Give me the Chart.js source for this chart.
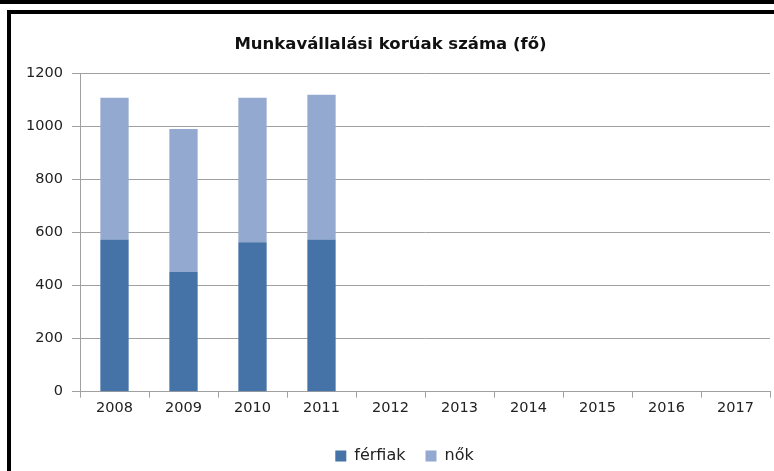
<!DOCTYPE html>
<html>
<head>
<meta charset="utf-8">
<script src="https://cdn.jsdelivr.net/npm/chart.js@4/dist/chart.umd.min.js"></script>
<style>
  html, body { margin: 0; padding: 0; background: #fff; overflow: hidden; }
  .bar-top { position: absolute; left: 0; top: 0; width: 774px; height: 4px; background: #000; }
  .frame-top { position: absolute; left: 7px; top: 10px; width: 767px; height: 4px; background: #000; }
  .frame-left { position: absolute; left: 7px; top: 10px; width: 4px; height: 461px; background: #000; }
  #wrap { position: absolute; left: 11px; top: 14px; width: 763px; height: 460px; }
</style>
</head>
<body>
<div class="bar-top"></div>
<div class="frame-top"></div>
<div class="frame-left"></div>
<div id="wrap"><canvas id="chart"></canvas></div>
<script>
// Munkavállalási korúak száma (fő)
const years = ['2008','2009','2010','2011','2012','2013','2014','2015','2016','2017'];
const ferfiak = [574, 451, 563, 574, null, null, null, null, null, null];
const nok = [534, 539, 545, 545, null, null, null, null, null, null];

const gridGray = '#a0a0a0';
const font = 'DejaVu Sans';

// legend sits a bit right of centre in the original
const legendShift = {
    id: 'legendShift',
    afterLayout(chart) {
        const lg = chart.legend;
        if (!lg) return;
        lg.left += 14; lg.right += 14;
        if (lg.adjustHitBoxes) lg.adjustHitBoxes();
    }
};

new Chart(document.getElementById('chart'), {
    type: 'bar',
    data: {
        labels: years,
        datasets: [
            { label: 'férfiak', data: ferfiak, backgroundColor: '#4572a7', borderWidth: 0, barPercentage: 0.41, categoryPercentage: 1 },
            { label: 'nők', data: nok, backgroundColor: '#93a9d0', borderWidth: 0, barPercentage: 0.41, categoryPercentage: 1 }
        ]
    },
    options: {
        responsive: true, maintainAspectRatio: false, animation: false,
        layout: { padding: { left: 0, right: 4, top: 0, bottom: 0 } },
        plugins: {
            title: { display: true, text: 'Munkavállalási korúak száma (fő)', color: '#111',
                font: { family: font, size: 16.5, weight: 'bold' }, padding: { top: 21.1, bottom: 18.4 } },
            legend: { position: 'bottom',
                labels: { boxWidth: 11, boxHeight: 11, padding: 20, color: '#222', font: { family: font, size: 16 } } },
            tooltip: { enabled: false }
        },
        scales: {
            x: {
                stacked: true,
                grid: { offset: true, drawOnChartArea: false, drawTicks: true, tickLength: 6, color: gridGray },
                border: { color: gridGray },
                ticks: { color: '#222', padding: 2, font: { family: font, size: 14.5 } },
                afterFit: s => { s.height = 36.3; }
            },
            y: {
                stacked: true, min: 0, max: 1200,
                grid: { color: gridGray, tickLength: 8 },
                border: { color: gridGray },
                ticks: { stepSize: 200, color: '#222', padding: 9, font: { family: font, size: 14.5 },
                    callback: v => String(v) },
                afterFit: s => { s.width = 69; }
            }
        }
    },
    plugins: [legendShift]
});
</script>
</body>
</html>
